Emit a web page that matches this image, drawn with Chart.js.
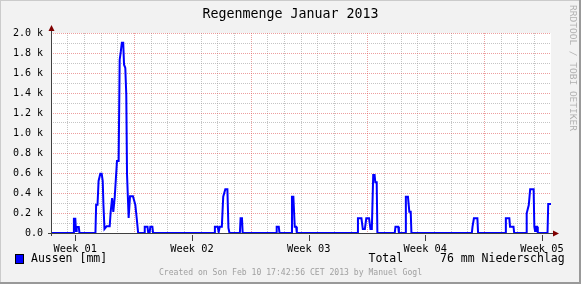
<!DOCTYPE html>
<html>
<head>
<meta charset="utf-8">
<script src="https://cdn.jsdelivr.net/npm/chart.js@4.4.0/dist/chart.umd.min.js"></script>
<style>
html, body { margin: 0; padding: 0; background: #f2f2f2; }
canvas { display: block; }
</style>
</head>
<body>
<canvas id="canvas" width="581" height="284"></canvas>
<script>
// Data (hours since 1 Jan 2013 00:00, rain values as plotted)
const hours = [0, 32, 33, 35, 36, 37, 40, 41,
  64, 65, 67, 68.5, 71, 73, 74.5, 75.5, 77, 80, 84.5, 86, 88, 89.7, 91.7, 95, 97.4, 98.9, 100.5, 102, 104, 105.2, 107, 108.4, 109.5, 111.8, 113.8, 118, 121.4, 123.4, 125.5,
  134, 135, 139, 140, 142, 143, 146, 147,
  235, 236, 240, 241.5, 243, 246, 248, 251, 254, 255.5, 257,
  272, 273, 275, 276,
  324, 325, 328, 329,
  346, 347, 349, 351, 353, 354,
  441, 442, 447, 449, 452, 454, 458, 460, 462, 464, 466, 467, 469, 470,
  495, 496, 500, 501,
  510, 511, 514, 516, 518, 519,
  606, 607, 609, 614, 615,
  654, 655, 660, 661, 666, 667,
  684, 685, 688, 690, 695, 696, 697, 698, 700, 701,
  715, 716, 720];
const rain = [0, 0, 143, 143, 20, 60, 60, 0,
  0, 283, 283, 520, 593, 593, 520, 283, 40, 67, 67, 217, 350, 210, 350, 720, 720, 1733, 1813, 1903, 1903, 1683, 1650, 1383, 583, 150, 367, 367, 283, 150, 0,
  0, 63, 63, 0, 0, 63, 63, 0,
  0, 63, 63, 10, 63, 63, 363, 437, 437, 50, 0,
  0, 147, 147, 0,
  0, 63, 63, 0,
  0, 363, 363, 63, 63, 0,
  0, 147, 147, 40, 40, 147, 147, 40, 40, 580, 580, 507, 507, 0,
  0, 63, 63, 0,
  0, 363, 363, 213, 213, 0,
  0, 63, 147, 147, 0,
  0, 147, 147, 63, 63, 0,
  0, 197, 280, 437, 437, 63, 20, 63, 63, 0,
  0, 290, 290];

const weekLabels = ["Week 01", "Week 02", "Week 03", "Week 04", "Week 05"];
const weekHours = [35, 203, 371, 539, 707];
const dayHours = [0, 24, 48, 72, 96, 120, 144, 168, 192, 216, 240, 264, 288, 312, 336, 360,
  384, 408, 432, 456, 480, 504, 528, 552, 576, 600, 624, 648, 672, 696, 720];
const majorDayHours = [120, 288, 456, 624];
const yTicks = [0, 100, 200, 300, 400, 500, 600, 700, 800, 900, 1000,
  1100, 1200, 1300, 1400, 1500, 1600, 1700, 1800, 1900, 2000];

const mono = "'DejaVu Sans Mono', monospace";
const gridMinor = "rgba(150,150,150,0.55)";
const gridMajor = "rgba(222,80,80,0.55)";

const rrdFrame = {
  id: "rrdFrame",
  beforeDraw(chart) {
    const ctx = chart.ctx;
    const a = chart.chartArea;
    ctx.save();
    ctx.fillStyle = "#f2f2f2";
    ctx.fillRect(0, 0, chart.width, chart.height);
    // shade
    ctx.fillStyle = "#cbcbcb";
    ctx.fillRect(0, 0, chart.width, 1);
    ctx.fillRect(0, 0, 1, chart.height);
    ctx.fillStyle = "#999999";
    ctx.fillRect(0, chart.height - 2, chart.width, 2);
    ctx.fillRect(chart.width - 2, 0, 2, chart.height);
    ctx.fillStyle = "#ffffff";
    ctx.fillRect(a.left, a.top, a.right - a.left, a.bottom - a.top);
    ctx.restore();
  },
  afterDatasetsDraw(chart) {
    const ctx = chart.ctx;
    const a = chart.chartArea;
    const xl = chart.scales.xl;
    ctx.save();
    ctx.strokeStyle = "#404040";
    ctx.lineWidth = 1;
    ctx.beginPath();
    ctx.moveTo(a.left - 3, a.bottom + 0.5);
    ctx.lineTo(a.right + 3, a.bottom + 0.5);
    ctx.moveTo(a.left + 0.5, a.bottom + 3);
    ctx.lineTo(a.left + 0.5, a.top - 3);
    // label ticks
    weekHours.forEach(h => {
      const px = Math.round(xl.getPixelForValue(h)) + 0.5;
      ctx.moveTo(px, a.bottom + 2);
      ctx.lineTo(px, a.bottom + 8);
    });
    ctx.stroke();
    // arrows
    ctx.fillStyle = "#7f0000";
    ctx.beginPath();
    ctx.moveTo(a.left + 0.5, a.top - 8);
    ctx.lineTo(a.left - 2.5, a.top - 2);
    ctx.lineTo(a.left + 3.5, a.top - 2);
    ctx.closePath();
    ctx.fill();
    ctx.beginPath();
    ctx.moveTo(a.right + 8, a.bottom + 0.5);
    ctx.lineTo(a.right + 2, a.bottom - 2.5);
    ctx.lineTo(a.right + 2, a.bottom + 3.5);
    ctx.closePath();
    ctx.fill();
    ctx.restore();
  },
  afterDraw(chart) {
    const ctx = chart.ctx;
    ctx.save();
    ctx.textBaseline = "middle";
    // title
    ctx.fillStyle = "#000";
    ctx.font = "13.3px " + mono;
    ctx.textAlign = "center";
    ctx.fillText("Regenmenge Januar 2013", 290.5, 15);
    // legend
    ctx.fillStyle = "#0000ff";
    ctx.fillRect(15, 254, 9, 10);
    ctx.strokeStyle = "#000";
    ctx.lineWidth = 1;
    ctx.strokeRect(15.5, 254.5, 8, 9);
    ctx.fillStyle = "#000";
    ctx.font = "11.5px " + mono;
    ctx.textAlign = "left";
    ctx.fillText("Aussen [mm]", 31, 259.5);
    ctx.fillText("Total", 368.5, 259.5);
    ctx.fillText("76 mm Niederschlag", 440, 259.5);
    // footer
    ctx.fillStyle = "#a0a0a0";
    ctx.font = "8.1px " + mono;
    ctx.textAlign = "center";
    ctx.fillText("Created on Son Feb 10 17:42:56 CET 2013 by Manuel Gogl", 290.5, 273);
    // watermark
    ctx.translate(572.5, 68);
    ctx.rotate(Math.PI / 2);
    ctx.fillStyle = "#b0b0b0";
    ctx.font = "9.5px " + mono;
    ctx.fillText("RRDTOOL / TOBI OETIKER", 0, 0);
    ctx.restore();
  }
};

const canvasChart = document.getElementById("canvas").getContext("2d");
const chart = new Chart(canvasChart, {
  type: "line",
  data: {
    datasets: [{
      label: "Aussen [mm]",
      data: hours.map((h, i) => ({ x: h, y: rain[i] })),
      borderColor: "#0000ff",
      borderWidth: 2,
      pointRadius: 0,
      tension: 0,
      fill: false,
      xAxisID: "x",
      yAxisID: "y"
    }]
  },
  options: {
    responsive: false,
    animation: false,
    devicePixelRatio: 1,
    layout: { padding: { top: 33, right: 30, bottom: 31, left: 0 } },
    plugins: { legend: { display: false }, title: { display: false }, tooltip: { enabled: false } },
    scales: {
      x: {
        type: "linear",
        min: 0,
        max: 720,
        weight: 0,
        afterBuildTicks: s => { s.ticks = dayHours.map(v => ({ value: v })); },
        afterFit: s => { s.height = 0; },
        ticks: { display: false },
        border: { display: false, dash: [1, 1] },
        grid: {
          drawTicks: false,
          lineWidth: 1,
          color: c => {
            const v = c.tick ? c.tick.value : 0;
            if (v === 0 || v === 720) return "rgba(0,0,0,0)";
            return majorDayHours.includes(v) ? gridMajor : gridMinor;
          }
        }
      },
      xl: {
        type: "linear",
        position: "bottom",
        min: 0,
        max: 720,
        weight: 1,
        afterBuildTicks: s => { s.ticks = weekHours.map(v => ({ value: v })); },
        afterFit: s => { s.height = 20; },
        border: { display: false },
        grid: { display: false },
        ticks: {
          autoSkip: false,
          maxRotation: 0,
          padding: 2,
          color: "#000",
          font: { family: mono, size: 10.3 },
          callback: (v, i) => weekLabels[i]
        }
      },
      y: {
        type: "linear",
        min: 0,
        max: 2000,
        afterBuildTicks: s => { s.ticks = yTicks.map(v => ({ value: v })); },
        afterFit: s => { s.width = 51; },
        border: { display: false, dash: [1, 1] },
        grid: {
          drawTicks: false,
          lineWidth: 1,
          color: c => {
            const v = c.tick ? c.tick.value : 0;
            if (v === 0) return "rgba(0,0,0,0)";
            return v % 200 === 0 ? gridMajor : gridMinor;
          }
        },
        ticks: {
          autoSkip: false,
          padding: 8,
          color: "#000",
          font: { family: mono, size: 10 },
          callback: v => v === 0 ? "0.0" : (v % 200 === 0 ? (v / 1000).toFixed(1) + " k" : "")
        }
      }
    }
  },
  plugins: [rrdFrame]
});
</script>
</body>
</html>
